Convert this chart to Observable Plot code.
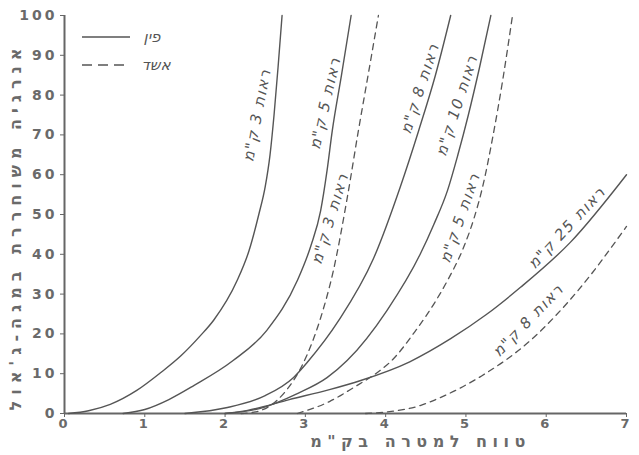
<!DOCTYPE html>
<html><head><meta charset="utf-8">
<script src="https://cdn.jsdelivr.net/npm/d3@7"></script>
<script src="https://cdn.jsdelivr.net/npm/@observablehq/plot@0.6"></script>
<style>
body{margin:0;background:#fff;}
#wrap{position:relative;width:639px;height:455px;background:#fff;}
#legend{position:absolute;left:0;top:0;}
g[aria-label="y-axis tick label"] text, g[aria-label="x-axis tick label"] text{letter-spacing:3px;font-weight:bold;}
</style></head><body><div id="wrap"></div>
<script>
// Axis ticks
const xTicks = [0,1,2,3,4,5,6,7];
const yTicks = [0,10,20,30,40,50,60,70,80,90,100];

// Series: "פין" (solid)
const pin3x  = [0.05,0.3,0.57,0.9,1.2,1.45,1.69,1.86,2.15,2.3,2.42,2.5,2.56,2.61,2.66,2.71];
const pin3y  = [0,0.7,2.3,5.8,10.3,14.5,19.5,23.5,33.4,41,50,57,65,75,87,100];
const pin5x  = [0.73,1.0,1.3,1.61,2.1,2.52,2.9,3.07,3.19,3.27,3.335,3.45,3.57];
const pin5y  = [0,1,3.5,7,13.3,20.9,33.4,42.2,50.9,61,71,85,100];
const pin8x  = [1.5,2.03,2.5,2.85,3.03,3.42,3.85,4.18,4.41,4.62,4.81];
const pin8y  = [0,1.5,4.5,9,13,23.5,39,56.8,71,85,100];
const pin10x = [2.0,2.44,2.9,3.27,3.52,4.02,4.43,4.6,4.77,4.9,5.03,5.17,5.31];
const pin10y = [0,1.3,5,9,13.3,26,40,47.5,56,65,75,87,100];
const pin25x = [2.0,2.28,2.8,3.3,3.69,4.3,4.81,5.25,5.68,6.3,7];
const pin25y = [0,0.8,3.5,6,8.3,13,18.8,24.8,31.7,43,60];

// Series: "אשד" (dashed)
const eshed3x = [2.2,2.4,2.55,2.75,2.97,3.19,3.35,3.52,3.66,3.79,3.91];
const eshed3y = [0,0.5,1.8,5.5,12.5,24,36,54,71,86,100];
const eshed5x = [2.9,3.3,3.6,3.93,4.06,4.38,4.6,4.77,4.97,5.1,5.22,5.33,5.46,5.58];
const eshed5y = [0,3,6.5,10.8,13,21,27.5,33.4,41.7,49,58,69,84,100];
const eshed8x = [3.75,3.97,4.43,4.68,5.2,5.8,6.4,7];
const eshed8y = [0,0.3,2,4,9.5,18.3,31,47];

// Curve labels
const labelText = ['ראות 3 ק"מ','ראות 5 ק"מ','ראות 3 ק"מ','ראות 8 ק"מ','ראות 10 ק"מ','ראות 5 ק"מ','ראות 25 ק"מ','ראות 8 ק"מ'];
const labelX = [2.40,3.25,3.31,4.43,4.89,4.93,6.26,5.78];
const labelY = [75,78,49,81.7,77.4,49.2,46.7,23.4];
const labelAngle = [-79,-77,-73,-72,-72,-71,-47,-46];

const legendNames = ['פין','אשד'];
const yTitle = "אנרגיה משוחררת במגה-ג'אול";
const xTitle = 'טווח למטרה בק"מ';

function rows(id, xs, ys){ return xs.map((x,i)=>({id, x, y: ys[i]})); }
const solid = [
  ...rows("p3",pin3x,pin3y), ...rows("p5",pin5x,pin5y), ...rows("p8",pin8x,pin8y),
  ...rows("p10",pin10x,pin10y), ...rows("p25",pin25x,pin25y)
];
const dashed = [
  ...rows("e3",eshed3x,eshed3y), ...rows("e5",eshed5x,eshed5y), ...rows("e8",eshed8x,eshed8y)
];
const labels = labelText.map((t,i)=>({t, x: labelX[i], y: labelY[i], r: labelAngle[i]}));

const ink = "#555";
const chart = Plot.plot({
  width: 639, height: 455,
  marginLeft: 64, marginRight: 13, marginTop: 15, marginBottom: 42,
  style: {background: "#fff", color: "#6a6a6a", fontFamily: "DejaVu Sans, sans-serif"},
  x: {domain: [0,7]},
  y: {domain: [0,100]},
  marks: [
    Plot.axisX({ticks: xTicks, tickFormat: d => String(d), tickSize: 4, tickPadding: 1, fontSize: 13, label: null, stroke: "#666"}),
    Plot.axisY({ticks: yTicks, tickFormat: d => String(d), tickSize: 4, tickPadding: 3, fontSize: 14, label: null, stroke: "#666"}),
    Plot.ruleX([0], {stroke: "#666", strokeWidth: 2}),
    Plot.ruleY([0], {stroke: "#666", strokeWidth: 2}),
    Plot.line(solid, {x: "x", y: "y", z: "id", curve: "monotone-x", stroke: ink, strokeWidth: 1.4}),
    Plot.line(dashed, {x: "x", y: "y", z: "id", curve: "monotone-x", stroke: ink, strokeWidth: 1.3, strokeDasharray: "6,5"}),
    Plot.text(labels, {x: "x", y: "y", text: "t", rotate: "r", fontSize: 15, fontStyle: "italic", fill: ink}),
    Plot.text([yTitle], {frameAnchor: "left", textAnchor: "middle", rotate: -90, dx: -49, dy: 12, fontSize: 16, fontWeight: "bold", fill: "#6a6a6a"}),
    Plot.text([xTitle], {frameAnchor: "bottom", textAnchor: "middle", dx: 75, dy: 33, fontSize: 16, fill: "#6a6a6a", fontWeight: "bold"})
  ]
});
document.getElementById("wrap").appendChild(chart);
// letter spacing on titles and curve labels
chart.querySelectorAll('g[aria-label="text"] text').forEach(t=>{
  if (t.textContent === yTitle) t.setAttribute("letter-spacing","6");
  else if (t.textContent === xTitle) t.setAttribute("letter-spacing","5.5");
  else t.setAttribute("letter-spacing","1.5");
});

// Legend (overlay)
const ns = "http://www.w3.org/2000/svg";
const lg = document.createElementNS(ns,"svg");
lg.setAttribute("id","legend"); lg.setAttribute("width","220"); lg.setAttribute("height","90");
const styles = [null, "10,6"];
legendNames.forEach((name,i)=>{
  const yy = 37 + i*28;
  const l = document.createElementNS(ns,"line");
  l.setAttribute("x1",82); l.setAttribute("x2",130); l.setAttribute("y1",yy); l.setAttribute("y2",yy);
  l.setAttribute("stroke",ink); l.setAttribute("stroke-width",1.4);
  if (styles[i]) l.setAttribute("stroke-dasharray",styles[i]);
  lg.appendChild(l);
  const t = document.createElementNS(ns,"text");
  t.setAttribute("x",152 + i*4); t.setAttribute("y",yy); t.setAttribute("dy","0.35em");
  t.setAttribute("text-anchor","middle"); t.setAttribute("font-size",15); t.setAttribute("font-style","italic");
  t.setAttribute("font-family","DejaVu Sans, sans-serif"); t.setAttribute("fill",ink);
  t.textContent = name;
  lg.appendChild(t);
});
document.getElementById("wrap").appendChild(lg);
</script>
</body></html>
